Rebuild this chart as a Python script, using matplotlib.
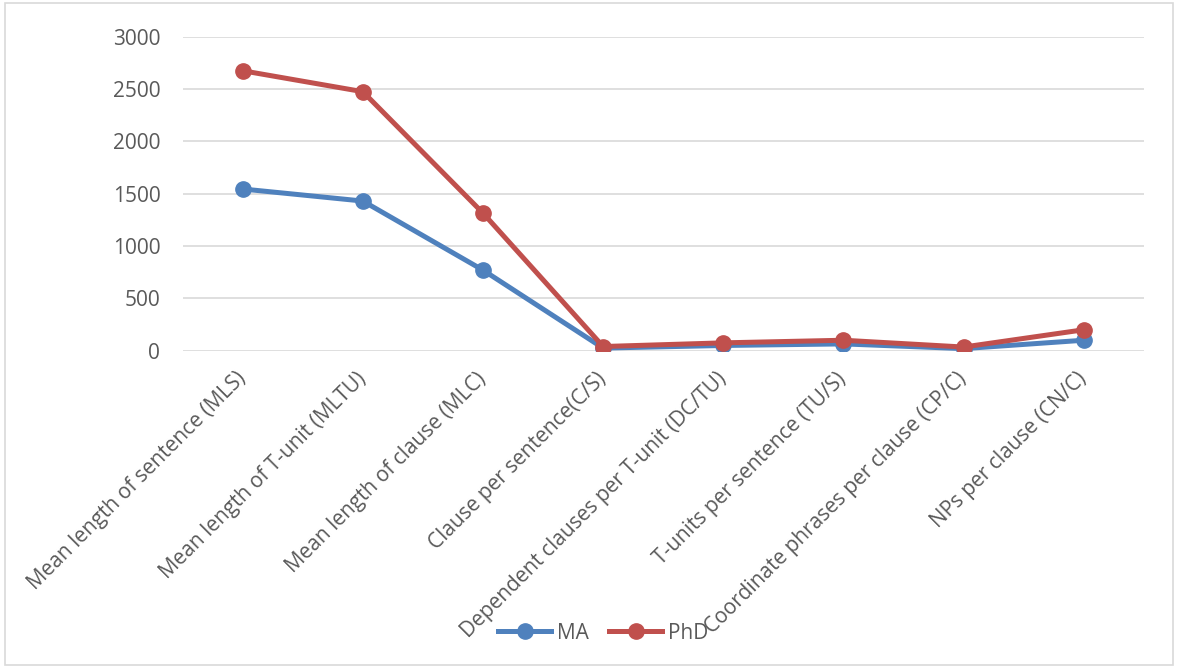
import numpy as np
import matplotlib
matplotlib.use("Agg")
from matplotlib import pyplot as plt
from matplotlib.patches import Rectangle

categories = ["Mean length of sentence (MLS)", "Mean length of T-unit (MLTU)",
              "Mean length of clause (MLC)", "Clause per sentence(C/S)",
              "Dependent clauses per T-unit (DC/TU)", "T-units per sentence (TU/S)",
              "Coordinate phrases per clause (CP/C)", "NPs per clause (CN/C)"]
ma = [1545, 1430, 770, 25, 50, 65, 20, 100]
phd = [2675, 2475, 1315, 40, 75, 100, 35, 200]
yticks = [0, 500, 1000, 1500, 2000, 2500, 3000]

plt.rcParams['font.family'] = ['Open Sans', 'DejaVu Sans']

fig = plt.figure(figsize=(11.78, 6.68), dpi=100)
ax = fig.add_axes([0.155, 0.475, 0.816, 0.470])

x = np.arange(len(categories))
ax.plot(x, ma, color="#4F81BD", lw=3.6, marker="o", ms=11, label="MA", zorder=3)
ax.plot(x, phd, color="#C0504D", lw=3.6, marker="o", ms=11, label="PhD", zorder=4)

ax.set_xlim(-0.5, len(categories) - 0.5)
ax.set_ylim(0, 3000)
ax.set_yticks(yticks)
ax.set_yticklabels([str(v) for v in yticks], fontsize=15, color="#595959")
ax.grid(axis="y", color="#D9D9D9", lw=1.2)
ax.set_axisbelow(True)
for s in ax.spines.values():
    s.set_visible(False)
ax.tick_params(axis="both", length=0)
ax.tick_params(axis="y", pad=16)
ax.set_xticks(x)
ax.set_xticklabels(categories, rotation=45, ha="right", va="center",
                   rotation_mode="anchor", fontsize=15, color="#595959")
ax.tick_params(axis="x", pad=18)

fig.legend(loc="center", bbox_to_anchor=(0.512, 0.052), ncol=2, frameon=False,
           fontsize=15, labelcolor="#595959", handlelength=2.55,
           columnspacing=1.0, handletextpad=0.25)

fig.patches.append(Rectangle((0.004, 0.004), 0.992, 0.992, transform=fig.transFigure,
                             fill=False, edgecolor="#D9D9D9", lw=1.2))

fig.savefig("out.png", dpi=100)
